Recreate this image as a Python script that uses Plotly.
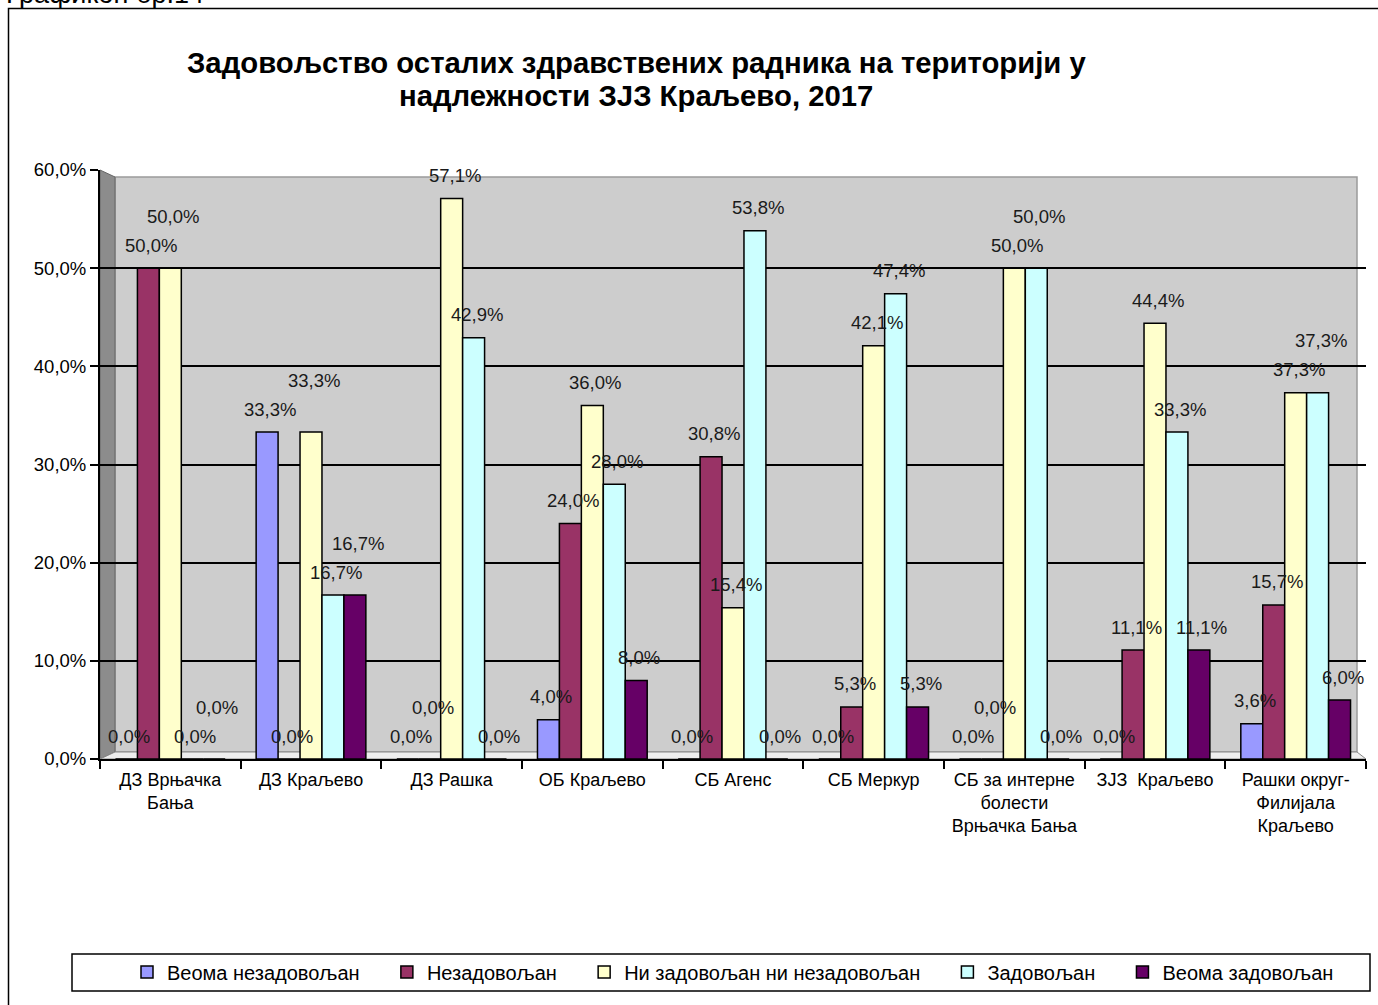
import plotly.graph_objects as go

categories = [
    "ДЗ Врњачка<br>Бања",
    "ДЗ Краљево",
    "ДЗ Рашка",
    "ОБ Краљево",
    "СБ Агенс",
    "СБ Меркур",
    "СБ за интерне<br>болести<br>Врњачка Бања",
    "ЗЈЗ  Краљево",
    "Рашки округ-<br>Филијала<br>Краљево",
]

series_names = [
    "Веома незадовољан",
    "Незадовољан",
    "Ни задовољан ни незадовољан",
    "Задовољан",
    "Веома задовољан",
]

veoma_nezadovoljan = [0.0, 33.3, 0.0, 4.0, 0.0, 0.0, 0.0, 0.0, 3.6]
nezadovoljan = [50.0, 0.0, 0.0, 24.0, 30.8, 5.3, 0.0, 11.1, 15.7]
ni_ni = [50.0, 33.3, 57.1, 36.0, 15.4, 42.1, 50.0, 44.4, 37.3]
zadovoljan = [0.0, 16.7, 42.9, 28.0, 53.8, 47.4, 50.0, 33.3, 37.3]
veoma_zadovoljan = [0.0, 16.7, 0.0, 8.0, 0.0, 5.3, 0.0, 11.1, 6.0]

series_values = [veoma_nezadovoljan, nezadovoljan, ni_ni, zadovoljan, veoma_zadovoljan]
colors = ["#9999FF", "#993366", "#FFFFCC", "#CCFFFF", "#660066"]

W, H = 1378, 1005
ML, MR, MT, MB = 100, 12, 170, 246
PW = W - ML - MR
PH = H - MT - MB
BARGAP = 0.22
NSER = len(series_names)
BAR_PX = PW / len(categories) * (1 - BARGAP) / NSER
Y_MAX = 60.0
FONT = "Liberation Sans, Arial, sans-serif"
LIFT_LEVELS = [23, 52, 81]   # label offsets above the bar top (px)
LABEL_H = 22                 # min vertical separation between neighbouring labels
NEIGHBOUR = 2                # labels up to 2 bars apart can touch horizontally


def X(px):
    return (px - ML) / PW


def Y(py):
    return (H - MB - py) / PH


def fmt(v):
    return f"{v:.1f}".replace(".", ",") + "%"


def label_lifts(values_in_group):
    """Greedy stagger so that neighbouring labels do not overlap."""
    placed = []
    lifts = []
    for i, v in enumerate(values_in_group):
        top = v / Y_MAX * PH
        chosen = LIFT_LEVELS[-1]
        for lift in LIFT_LEVELS:
            c = top + lift
            if all(abs(c - pc) >= LABEL_H for j, pc in placed if abs(i - j) <= NEIGHBOUR):
                chosen = lift
                break
        placed.append((i, top + chosen))
        lifts.append(chosen)
    return lifts


fig = go.Figure()
for name, vals, col in zip(series_names, series_values, colors):
    fig.add_trace(go.Bar(
        name=name + "\u00a0" * 4,
        x=categories,
        y=vals,
        marker=dict(color=col, line=dict(color="black", width=1.5)),
        hoverinfo="skip",
    ))

annotations = []
for k, cat in enumerate(categories):
    group = [s[k] for s in series_values]
    lifts = label_lifts(group)
    for i, (v, lift) in enumerate(zip(group, lifts)):
        annotations.append(dict(
            x=cat, y=v, xref="x", yref="y", text=fmt(v), showarrow=False,
            xshift=(i - (NSER - 1) / 2) * BAR_PX + 3, yshift=lift,
            xanchor="center", yanchor="middle",
            font=dict(family=FONT, size=18.5, color="#1a1a1a"),
        ))

annotations += [
    dict(text="<b>Задовољство осталих здравствених радника на територији у</b>",
         xref="paper", yref="paper", x=X(636), y=Y(62), xanchor="center", yanchor="middle",
         showarrow=False, font=dict(family=FONT, size=29.3, color="black")),
    dict(text="<b>надлежности ЗЈЗ Краљево, 2017</b>",
         xref="paper", yref="paper", x=X(636), y=Y(95), xanchor="center", yanchor="middle",
         showarrow=False, font=dict(family=FONT, size=29.3, color="black")),
    dict(text="Графикон бр.14", xref="paper", yref="paper", x=X(4), y=Y(11),
         xanchor="left", yanchor="bottom", showarrow=False,
         font=dict(family=FONT, size=27, color="black")),
]

shapes = [
    # outer frame
    dict(type="rect", xref="paper", yref="paper", x0=X(8.5), x1=X(1440), y0=Y(1060), y1=Y(8.5),
         line=dict(color="black", width=1.5), fillcolor="rgba(0,0,0,0)", layer="below"),
    # back wall
    dict(type="rect", xref="paper", yref="paper", x0=X(115), x1=X(1357), y0=Y(752), y1=Y(177),
         line=dict(color="#9a9a9a", width=1.5), fillcolor="#CDCDCD", layer="below"),
    # side wall
    dict(type="path", xref="paper", yref="paper",
         path=f"M {X(100)},{Y(170)} L {X(115)},{Y(177)} L {X(115)},{Y(752)} L {X(100)},{Y(759)} Z",
         line=dict(color="#666666", width=1), fillcolor="#8C8C8C", layer="below"),
    # floor
    dict(type="path", xref="paper", yref="paper",
         path=f"M {X(100)},{Y(759)} L {X(115)},{Y(752)} L {X(1357)},{Y(752)} L {X(1366)},{Y(759)} Z",
         line=dict(color="#888888", width=1), fillcolor="#EEEEEE", layer="below"),
    # legend box
    dict(type="rect", xref="paper", yref="paper", x0=X(72), x1=X(1370), y0=Y(991), y1=Y(954),
         line=dict(color="black", width=1.5), fillcolor="white", layer="below"),
]

fig.update_layout(
    width=W, height=H, autosize=False,
    margin=dict(l=ML, r=MR, t=MT, b=MB, pad=0),
    paper_bgcolor="white",
    plot_bgcolor="rgba(0,0,0,0)",
    separators=",.",
    font=dict(family=FONT, size=18, color="black"),
    barmode="group",
    bargap=BARGAP,
    bargroupgap=0.0,
    showlegend=True,
    legend=dict(
        orientation="h", x=X(127), xanchor="left", y=Y(972), yanchor="middle",
        xref="paper", yref="paper",
        font=dict(family=FONT, size=20, color="black"), bgcolor="rgba(0,0,0,0)",
        itemclick=False, itemdoubleclick=False,
    ),
    shapes=shapes,
    annotations=annotations,
)

fig.update_yaxes(
    range=[0, Y_MAX], dtick=10, tickformat=".1f", ticksuffix="%",
    showgrid=True, gridcolor="black", gridwidth=2,
    zeroline=False, showline=True, linecolor="black", linewidth=2,
    ticks="outside", ticklen=8, tickcolor="black", tickwidth=2,
    tickfont=dict(family=FONT, size=18.5, color="black"),
)
fig.update_xaxes(
    showline=True, linecolor="black", linewidth=2,
    ticks="outside", ticklen=8, tickcolor="black", tickwidth=2,
    tickson="boundaries", showgrid=False,
    tickfont=dict(family=FONT, size=18, color="black"),
    tickangle=0, ticklabelstandoff=3,
)

fig.write_html(
    "out.html",
    config={"displayModeBar": False},
    post_script="document.body.style.margin='0';document.body.style.padding='0';",
)
